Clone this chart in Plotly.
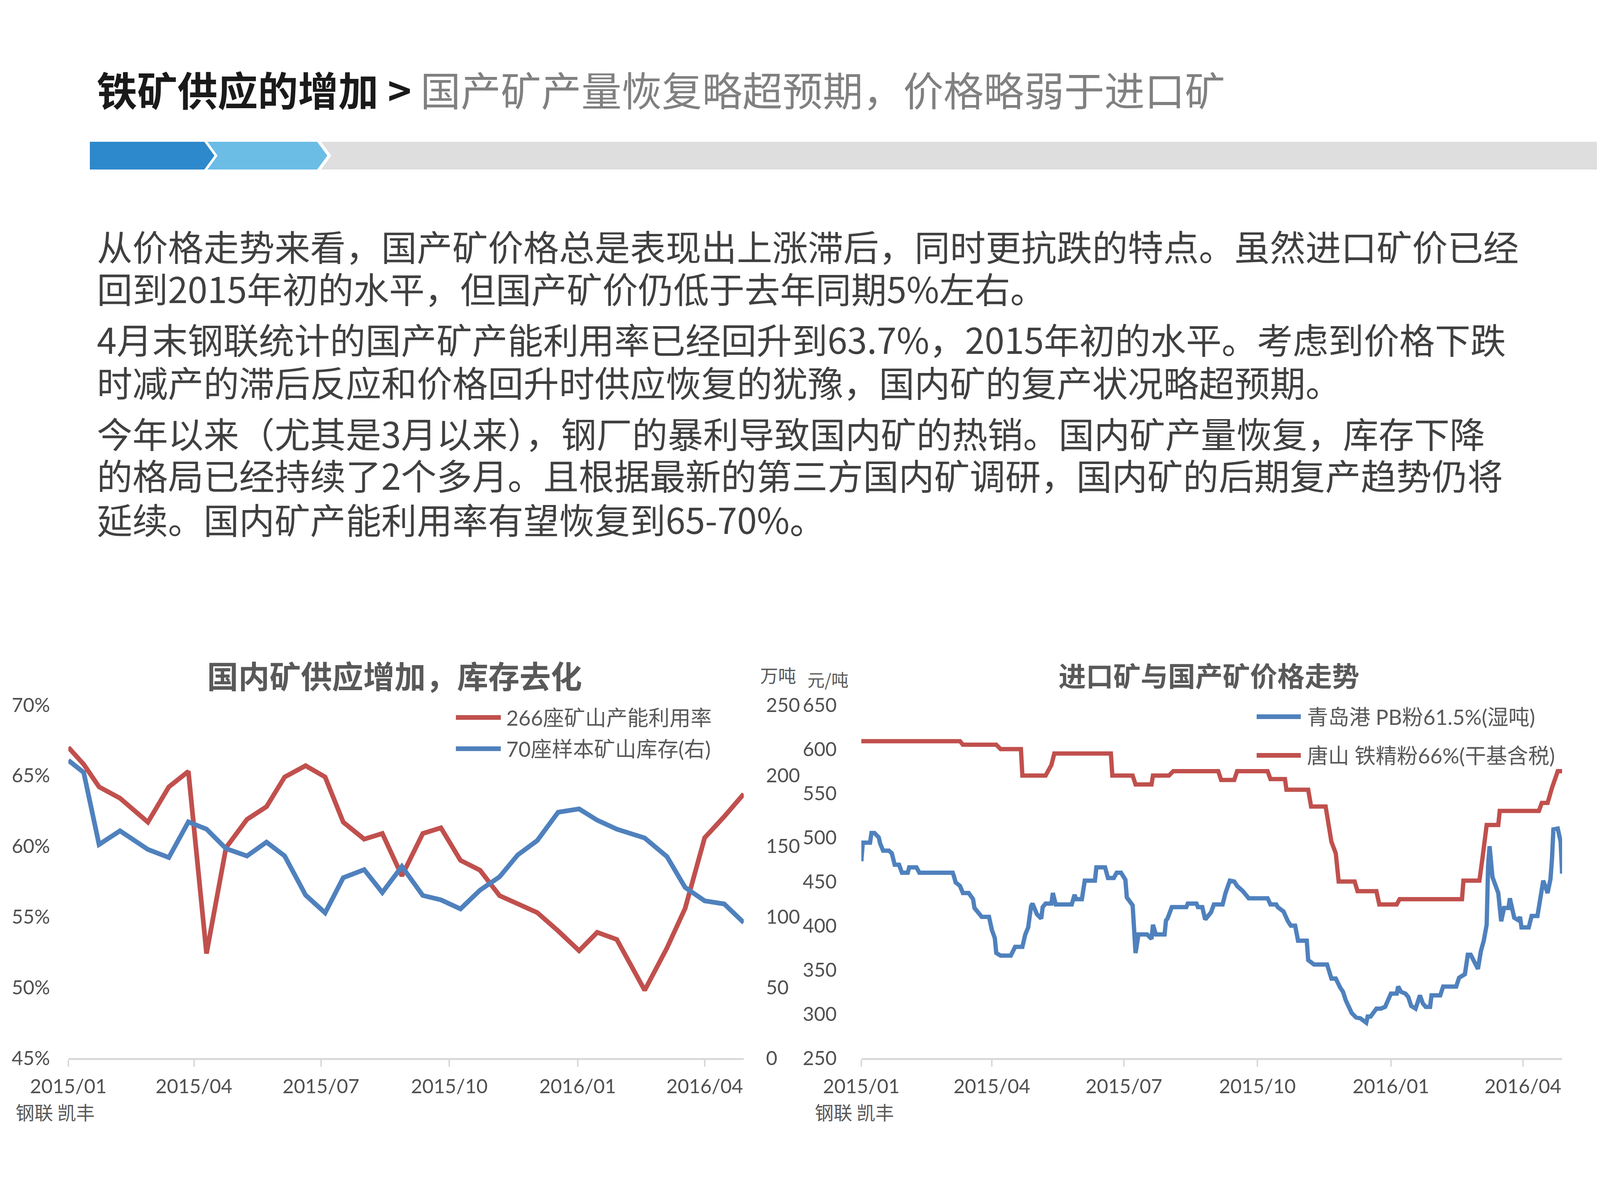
import plotly.graph_objects as go
import pandas as pd

W, H = 4100, 3075

# ---------------- Left chart data ----------------
util_dates = ["2015-01-01", "2015-01-12", "2015-01-23", "2015-02-07", "2015-02-27", "2015-03-14",
              "2015-03-28", "2015-04-10", "2015-04-24", "2015-05-09", "2015-05-23", "2015-06-05",
              "2015-06-20", "2015-07-04", "2015-07-17", "2015-08-01", "2015-08-14", "2015-08-28",
              "2015-09-12", "2015-09-25", "2015-10-09", "2015-10-23", "2015-11-06", "2015-11-19",
              "2015-12-03", "2015-12-18", "2016-01-02", "2016-01-15", "2016-01-29", "2016-02-18",
              "2016-03-05", "2016-03-18", "2016-04-01", "2016-04-15", "2016-04-29"]
util_rate = [67.0, 65.8, 64.2, 63.4, 61.7, 64.2, 65.3, 52.4, 59.9, 61.9, 62.8, 64.9,
             65.7, 64.9, 61.7, 60.5, 60.9, 57.9, 60.9, 61.3, 59.0, 58.3, 56.5, 55.9,
             55.3, 54.0, 52.6, 53.9, 53.4, 49.8, 52.8, 55.6, 60.6, 62.1, 63.7]
inventory = [210.8, 202.2, 151.2, 160.9, 147.7, 142.0, 167.2, 162.1, 148.3, 143.1, 152.9, 143.1,
             115.4, 102.8, 127.7, 133.4, 117.2, 135.7, 115.1, 112.0, 105.6, 118.9, 128.3, 143.8,
             154.0, 174.1, 176.4, 168.4, 162.1, 155.8, 142.6, 120.8, 111.3, 109.1, 95.9]
util_name = "266座矿山产能利用率"
inv_name = "70座样本矿山库存(右)"
pct_ticks = [45, 50, 55, 60, 65, 70]
pct_labels = ["45%", "50%", "55%", "60%", "65%", "70%"]
inv_ticks = [0, 50, 100, 150, 200, 250]

# ---------------- Right chart data (days since 2015-01-01) ----------------
pb_days = [0, 1, 6, 7, 9, 12, 13, 15, 19, 21, 23, 26, 28, 32, 33, 38, 40, 63, 64, 65, 68, 70, 74,
           77, 78, 81, 83, 88, 90, 92, 93, 96, 103, 106, 111, 113, 115, 117, 118, 121, 124, 125,
           127, 131, 132, 134, 145, 147, 148, 152, 154, 161, 162, 168, 170, 174, 176, 179, 182,
           183, 187, 189, 191, 197, 200, 201, 203, 209, 210, 211, 214, 224, 225, 231, 232, 235,
           237, 241, 243, 249, 251, 254, 257, 259, 263, 267, 280, 282, 286, 287, 291, 294, 296,
           299, 301, 307, 308, 312, 321, 324, 327, 330, 332, 334, 338, 341, 344, 348, 349, 351,
           355, 358, 361, 365, 369, 370, 372, 375, 377, 379, 382, 385, 387, 389, 392, 393, 399,
           401, 410, 412, 416, 418, 420, 425, 427, 429, 431, 432, 433, 435, 439, 441, 443, 446,
           447, 450, 453, 454, 455, 460, 462, 466, 468, 470, 473, 475, 476, 477, 480, 482, 483]
pb_price = [473, 494, 494, 505, 505, 500, 493, 485, 485, 482, 469, 469, 460, 460, 466, 466, 460,
            460, 455, 449, 445, 437, 437, 430, 420, 415, 410, 410, 395, 386, 369, 366, 366, 376,
            376, 390, 398, 422, 425, 413, 408, 421, 425, 425, 437, 424, 424, 435, 430, 430, 451,
            451, 466, 466, 454, 454, 460, 460, 452, 432, 423, 369, 390, 390, 385, 401, 390, 390,
            406, 408, 421, 421, 425, 425, 421, 421, 407, 415, 424, 424, 437, 451, 450, 445, 439,
            431, 431, 424, 424, 421, 416, 405, 400, 400, 383, 383, 361, 356, 356, 340, 340, 330,
            325, 315, 301, 296, 295, 290, 297, 297, 306, 306, 308, 323, 323, 331, 325, 323, 319,
            309, 306, 321, 312, 308, 308, 321, 321, 331, 331, 341, 345, 367, 367, 351, 371, 383,
            401, 468, 490, 455, 437, 405, 420, 420, 431, 409, 406, 410, 398, 398, 411, 411, 428,
            451, 437, 453, 475, 509, 510, 495, 459]
ts_days = [0, 68, 70, 93, 96, 110, 111, 127, 130, 131, 133, 172, 173, 187, 189, 200, 201, 212, 215,
           246, 248, 257, 259, 280, 282, 292, 293, 308, 310, 320, 324, 327, 329, 340, 342, 355, 357,
           369, 371, 414, 415, 426, 428, 431, 439, 440, 467, 469, 473, 475, 476, 480, 483]
ts_price = [609, 609, 605, 605, 600, 600, 570, 570, 579, 582, 595, 595, 570, 570, 560, 560, 570,
            570, 575, 575, 565, 565, 575, 575, 566, 566, 554, 554, 535, 535, 495, 482, 450, 450,
            439, 439, 424, 424, 430, 430, 451, 451, 475, 514, 514, 530, 530, 539, 539, 553, 556,
            575, 575]
pb_name = "青岛港 PB粉61.5%(湿吨)"
ts_name = "唐山 铁精粉66%(干基含税)"
price_ticks = [250, 300, 350, 400, 450, 500, 550, 600, 650]

tick_dates = ["2015-01-01", "2015-04-01", "2015-07-01", "2015-10-01", "2016-01-01", "2016-04-01"]
tick_text = ["2015/01", "2015/04", "2015/07", "2015/10", "2016/01", "2016/04"]

base = pd.Timestamp("2015-01-01")
pb_dates = base + pd.to_timedelta(pb_days, unit="D")
ts_dates = base + pd.to_timedelta(ts_days, unit="D")

RED = "#C0504D"
BLUE = "#4F81BD"
GREY = "#595959"
CJK = "Noto Sans CJK SC"
NUM = "Lato, Noto Sans CJK SC"

OFF = 8  # page offset of the plot div


def px(x):
    return (x - OFF) / W


def py(y):
    return 1 - (y - OFF) / H


fig = go.Figure()
fig.add_trace(go.Scatter(x=util_dates, y=util_rate, name=util_name, mode="lines",
                         line=dict(color=RED, width=12), xaxis="x", yaxis="y"))
fig.add_trace(go.Scatter(x=util_dates, y=inventory, name=inv_name, mode="lines",
                         line=dict(color=BLUE, width=12), xaxis="x", yaxis="y2"))
fig.add_trace(go.Scatter(x=pb_dates, y=pb_price, name=pb_name, mode="lines",
                         line=dict(color=BLUE, width=11), xaxis="x2", yaxis="y3"))
fig.add_trace(go.Scatter(x=ts_dates, y=ts_price, name=ts_name, mode="lines",
                         line=dict(color=RED, width=11), xaxis="x2", yaxis="y3"))

ydom = [py(2709), py(1805)]
tickfont = dict(family=NUM, size=50, color="#505050")
xcommon = dict(type="date", tickmode="array", tickvals=tick_dates, ticktext=tick_text,
               ticks="outside", ticklen=17, tickwidth=4, tickcolor="#D9D9D9",
               showline=True, linecolor="#D9D9D9", linewidth=5, showgrid=False,
               zeroline=False, tickfont=tickfont, ticklabelstandoff=8, automargin=False)
ycommon = dict(showgrid=False, zeroline=False, showline=False, tickfont=tickfont,
               tickmode="array", automargin=False, ticks="")

fig.update_layout(
    width=W, height=H, margin=dict(l=0, r=0, t=0, b=0, pad=0, autoexpand=False),
    paper_bgcolor="white", plot_bgcolor="white", showlegend=False,
    xaxis=dict(domain=[px(175), px(1904)], range=["2015-01-01", "2016-04-29"], anchor="y", **xcommon),
    yaxis=dict(domain=ydom, range=[45, 70], tickvals=pct_ticks, ticktext=pct_labels,
               ticklabelstandoff=46, anchor="x", **ycommon),
    yaxis2=dict(overlaying="y", side="right", range=[0, 250], tickvals=inv_ticks,
                ticktext=[str(v) for v in inv_ticks], ticklabelstandoff=56, anchor="x", **ycommon),
    xaxis2=dict(domain=[px(2205), px(3999)], range=["2015-01-01", "2016-04-28"], anchor="y3", **xcommon),
    yaxis3=dict(domain=ydom, range=[250, 650], tickvals=price_ticks,
                ticktext=[str(v) for v in price_ticks], ticklabelstandoff=62, anchor="x2", **ycommon),
)

shapes = []
# header band
shapes.append(dict(type="path", xref="paper", yref="paper", line=dict(width=0), fillcolor="#DEDEDE",
                   path=f"M{px(822)},{py(363)} L{px(4110)},{py(363)} L{px(4110)},{py(434)} "
                        f"L{px(822)},{py(434)} L{px(848)},{py(398.5)} Z"))
shapes.append(dict(type="path", xref="paper", yref="paper", line=dict(width=0), fillcolor="#2D89CB",
                   path=f"M{px(230)},{py(363)} L{px(523)},{py(363)} L{px(549)},{py(398.5)} "
                        f"L{px(523)},{py(434)} L{px(230)},{py(434)} Z"))
shapes.append(dict(type="path", xref="paper", yref="paper", line=dict(width=0), fillcolor="#6BBDE6",
                   path=f"M{px(531)},{py(363)} L{px(812)},{py(363)} L{px(838)},{py(398.5)} "
                        f"L{px(812)},{py(434)} L{px(531)},{py(434)} L{px(557)},{py(398.5)} Z"))

# legends (manual)
legend_items = [
    (util_name, RED, 1167, 1282, 1837, 1294),
    (inv_name, BLUE, 1167, 1282, 1917, 1294),
    (pb_name, BLUE, 3217, 3330, 1835, 3344),
    (ts_name, RED, 3217, 3330, 1934, 3344),
]
annotations = []
for name, col, x0, x1, yy, xt in legend_items:
    shapes.append(dict(type="line", xref="paper", yref="paper", x0=px(x0), x1=px(x1), y0=py(yy), y1=py(yy),
                       line=dict(color=col, width=12)))
    annotations.append(dict(text=name, x=px(xt), y=py(yy), xref="paper", yref="paper", showarrow=False,
                            xanchor="left", yanchor="middle", font=dict(family=NUM, size=54, color=GREY)))

fig.update_layout(shapes=shapes)


def ann(text, x, y, size, color="#404040", xanchor="left", family=CJK):
    annotations.append(dict(text=text, x=px(x), y=py(y), xref="paper", yref="paper", showarrow=False,
                            xanchor=xanchor, yanchor="middle", align="left",
                            font=dict(family=family, size=size, color=color)))


# header title
ann("<b>铁矿供应的增加 &gt;</b> <span style='color:#808080'>国产矿产量恢复略超预期，价格略弱于进口矿</span>",
    246, 228, 103, color="#1A1A1A")

body_lines = [
    "从价格走势来看，国产矿价格总是表现出上涨滞后，同时更抗跌的特点。虽然进口矿价已经",
    "回到2015年初的水平，但国产矿价仍低于去年同期5%左右。",
    "4月末钢联统计的国产矿产能利用率已经回升到63.7%，2015年初的水平。考虑到价格下跌",
    "时减产的滞后反应和价格回升时供应恢复的犹豫，国内矿的复产状况略超预期。",
    "今年以来（尤其是3月以来），钢厂的暴利导致国内矿的热销。国内矿产量恢复，库存下降",
    "的格局已经持续了2个多月。且根据最新的第三方国内矿调研，国内矿的后期复产趋势仍将",
    "延续。国内矿产能利用率有望恢复到65-70%。",
]
body_y = [628, 736, 866, 976, 1107, 1214, 1327]
for line, yy in zip(body_lines, body_y):
    ann(line, 246, yy, 91, color="#404040")

# chart titles and unit labels
ann("<b>国内矿供应增加，库存去化</b>", 1010, 1727, 80, color=GREY, xanchor="center")
ann("<b>进口矿与国产矿价格走势</b>", 3095, 1727, 70, color=GREY, xanchor="center")
ann("万吨", 1992, 1727, 46, color=GREY, xanchor="center")
ann("元/吨", 2119, 1739, 44, color=GREY, xanchor="center")
ann("钢联 凯丰", 38, 2846, 48, color=GREY)
ann("钢联 凯丰", 2084, 2846, 48, color=GREY)

fig.update_layout(annotations=annotations)
fig.write_html("out.html")
